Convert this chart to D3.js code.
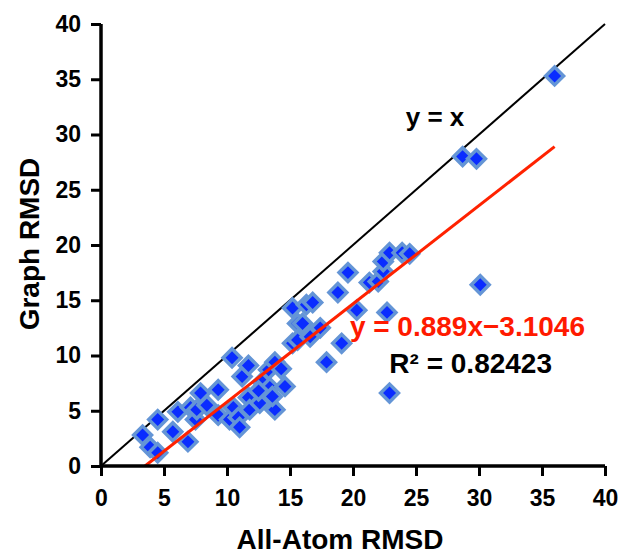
<!DOCTYPE html>
<html>
<head>
<meta charset="utf-8">
<script src="https://cdn.jsdelivr.net/npm/d3@7"></script>
<style>
  body { margin: 0; background: #fff; }
  text { font-family: "Liberation Sans", Arial, sans-serif; font-weight: bold; }
</style>
</head>
<body>
<div id="chart"></div>
<script>
// data: All-Atom RMSD (x) vs Graph RMSD (y)
const allAtom = [3.3, 3.9, 4.5, 4.5, 5.7, 6.1, 6.9, 7.1, 7.5, 7.9, 7.6, 8.4, 9.3, 9.3, 10.2,
  10.4, 10.5, 10.9, 11.0, 11.2, 11.7, 11.7, 11.8, 12.6, 12.8, 13.3, 13.4, 13.8, 13.8, 14.6,
  12.5, 13.6, 14.3, 15.2, 15.6, 15.2, 15.6, 16.0, 16.3, 16.6, 16.8, 17.4, 17.9, 18.8, 19.1,
  19.6, 20.3, 21.3, 22.0, 22.4, 22.4, 22.7, 22.9, 23.9, 24.5, 22.9, 28.7, 29.8, 30.1, 36.0];
const graph = [2.8, 1.7, 1.2, 4.2, 3.1, 4.9, 2.2, 5.3, 4.2, 6.6, 5.1, 5.5, 6.9, 4.6, 4.2,
  9.8, 5.3, 4.4, 3.5, 8.1, 9.1, 6.2, 5.1, 5.7, 7.6, 8.7, 7.1, 9.4, 5.1, 7.2,
  6.8, 6.3, 8.8, 14.3, 12.9, 11.1, 11.4, 12.9, 14.6, 11.7, 14.8, 12.5, 9.4, 15.7, 11.1,
  17.5, 14.1, 16.6, 16.7, 17.6, 18.5, 13.9, 19.3, 19.3, 19.2, 6.6, 28.0, 27.8, 16.4, 35.3];
const ticks = [0, 5, 10, 15, 20, 25, 30, 35, 40];
const slope = 0.889, intercept = -3.1046;

const width = 624, height = 556;
const x = d3.scaleLinear().domain([0, 40]).range([101, 605]);
const y = d3.scaleLinear().domain([0, 40]).range([466, 24]);

const svg = d3.select("#chart").append("svg")
  .attr("width", width).attr("height", height);

// identity line y = x
svg.append("line")
  .attr("x1", x(0)).attr("y1", y(0))
  .attr("x2", x(40)).attr("y2", y(40))
  .attr("stroke", "#000").attr("stroke-width", 2);

// points
const pts = allAtom.map((v, i) => [v, graph[i]]);
svg.selectAll("path.pt")
  .data(pts)
  .join("path")
  .attr("class", "pt")
  .attr("d", d3.symbol(d3.symbolSquare, 160))
  .attr("transform", d => `translate(${x(d[0])},${y(d[1])}) rotate(45)`)
  .attr("fill", "#0a2cff")
  .attr("stroke", "#6495d6")
  .attr("stroke-width", 3.5);

// trend line
const x0 = -intercept / slope, x1 = 36;
svg.append("line")
  .attr("x1", x(x0)).attr("y1", y(0))
  .attr("x2", x(x1)).attr("y2", y(slope * x1 + intercept))
  .attr("stroke", "#ff2200").attr("stroke-width", 3);

// axes
const xAxis = svg.append("g")
  .attr("transform", `translate(0,${y(0)})`)
  .call(d3.axisBottom(x).tickValues(ticks).tickSize(10).tickPadding(14));
const yAxis = svg.append("g")
  .attr("transform", `translate(${x(0)},0)`)
  .call(d3.axisLeft(y).tickValues(ticks).tickSize(10).tickPadding(10));

[xAxis, yAxis].forEach(g => {
  g.select(".domain").attr("stroke", "#000").attr("stroke-width", 3.5);
  g.selectAll(".tick line").attr("stroke", "#000").attr("stroke-width", 3);
  g.selectAll(".tick text").attr("fill", "#000")
    .style("font-size", "23px").style("font-family", "'Liberation Sans', Arial, sans-serif")
    .style("font-weight", "bold");
});
// keep the axis lines exactly at the extent
xAxis.select(".domain").attr("d", `M${x(0)},0H${x(40)}`);
yAxis.select(".domain").attr("d", `M0,${y(0)}V${y(40)}`);

// titles
svg.append("text")
  .attr("x", 340).attr("y", 549)
  .attr("text-anchor", "middle")
  .style("font-size", "28px")
  .text("All-Atom RMSD");

svg.append("text")
  .attr("transform", "translate(39,244) rotate(-90)")
  .attr("text-anchor", "middle")
  .style("font-size", "28px")
  .text("Graph RMSD");

// annotations
svg.append("text")
  .attr("x", 435).attr("y", 126)
  .attr("text-anchor", "middle")
  .style("font-size", "26px")
  .text("y = x");

svg.append("text")
  .attr("x", 585).attr("y", 336)
  .attr("text-anchor", "end")
  .attr("fill", "#ff1a00")
  .style("font-size", "28px")
  .text("y = 0.889x\u22123.1046");

svg.append("text")
  .attr("x", 552).attr("y", 373)
  .attr("text-anchor", "end")
  .style("font-size", "28px")
  .text("R\u00b2 = 0.82423");
</script>
</body>
</html>
